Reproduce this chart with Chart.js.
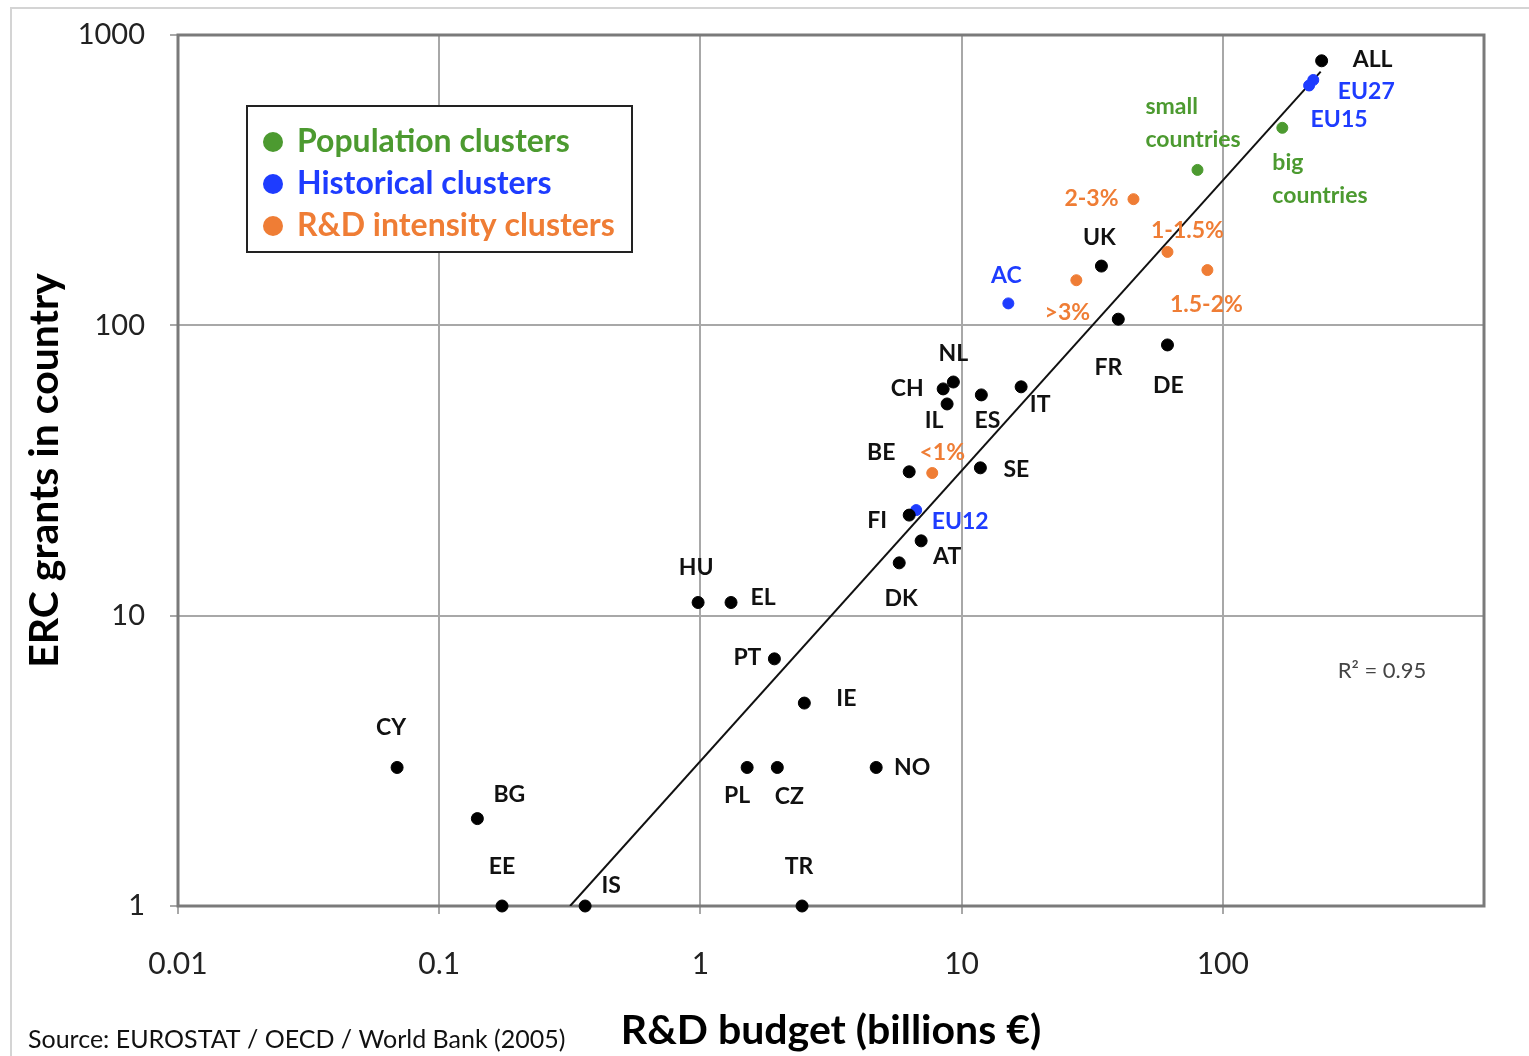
<!DOCTYPE html>
<html>
<head>
<meta charset="utf-8">
<script src="https://cdn.jsdelivr.net/npm/chart.js@4/dist/chart.umd.min.js"></script>
<style>
  html, body { margin: 0; padding: 0; background: #fff; }
  #wrap { width: 1529px; height: 1056px; }
</style>
</head>
<body>
<div id="wrap"><canvas id="chart" width="1529" height="1056"></canvas></div>
<script>
// countries (black)
const countryNames = ['ALL', 'UK', 'FR', 'DE', 'NL', 'CH', 'IL', 'ES', 'IT', 'BE', 'SE', 'FI', 'AT', 'DK',
  'HU', 'EL', 'PT', 'IE', 'PL', 'CZ', 'NO', 'TR', 'CY', 'BG', 'EE', 'IS'];
const countryBudget = [239, 34.3, 39.8, 61.4, 9.3, 8.5, 8.8, 11.9, 16.9, 6.3, 11.8, 6.3, 7.0, 5.77,
  0.98, 1.31, 1.92, 2.5, 1.51, 1.97, 4.71, 2.45, 0.069, 0.14, 0.174, 0.362];
const countryGrants = [815, 160, 105, 85.6, 63.8, 60.4, 53.6, 57.6, 61.4, 31.3, 32.3, 22.2, 18.1, 15.2,
  11.1, 11.1, 7.1, 5.0, 3.0, 3.0, 3.0, 1, 3.0, 2.0, 1, 1];

// population clusters (green)
const popNames = ['small\ncountries', 'big\ncountries'];
const popBudget = [80, 169];
const popGrants = [343, 479];

// historical clusters (blue)
const histNames = ['EU27', 'EU15', 'AC', 'EU12'];
const histBudget = [222, 214, 15.1, 6.7];
const histGrants = [700, 670, 119, 23.1];

// R&D intensity clusters (orange)
const intNames = ['2-3%', '1-1.5%', '1.5-2%', '>3%', '<1%'];
const intBudget = [45.5, 61.4, 87.3, 27.5, 7.72];
const intGrants = [272, 179, 155, 143, 31.0];

// fitted power-law line
const trendBudget = [0.317, 237];
const trendGrants = [1, 748];

const xTickValues = [0.01, 0.1, 1, 10, 100];
const xTickLabels = ['0.01', '0.1', '1', '10', '100'];
const yTickValues = [1, 10, 100, 1000];
const yTickLabels = ['1', '10', '100', '1000'];

// label placement relative to each point: [dx, dy, align]
const countryLabelPos = [[51, -1], [-2, -28], [-10, 48], [1, 41], [0, -28], [-36, 0], [-13, 17], [6, 26],
  [19, 18], [-28, -19], [36, 2], [-32, 5], [26, 16], [2, 36], [-2, -35], [32, -5], [-27, -1], [42, -4],
  [-10, 28], [12, 29], [36, 0], [-3, -39], [-6, -40], [32, -24], [0, -39], [26, -20]];
const popLabelPos = [[-52, -63, 'left'], [-10, 35, 'left']];
const histLabelPos = [[53, 12], [30, 34], [-2, -28], [44, 11]];
const intLabelPos = [[-42, -1], [20, -21], [-1, 35], [-9, 32], [10, -20]];

const GREEN = '#4c9a30';
const BLUE = '#1e3cff';
const ORANGE = '#ef7d35';

const legendItems = [
  { text: 'Population clusters', color: GREEN },
  { text: 'Historical clusters', color: BLUE },
  { text: 'R&D intensity clusters', color: ORANGE }
];

function toPoints(xs, ys) {
  return xs.map((x, i) => ({ x: x, y: ys[i] }));
}

const labelSets = [
  { names: countryNames, pos: countryLabelPos, color: '#111' },
  { names: popNames, pos: popLabelPos, color: GREEN },
  { names: histNames, pos: histLabelPos, color: BLUE },
  { names: intNames, pos: intLabelPos, color: ORANGE }
];

const decorPlugin = {
  id: 'decor',
  afterDatasetsDraw(chart) {
    const ctx = chart.ctx;

    // point labels
    ctx.save();
    ctx.font = 'bold 23px Lato';
    ctx.textBaseline = 'middle';
    labelSets.forEach((set, di) => {
      const meta = chart.getDatasetMeta(di);
      meta.data.forEach((pt, i) => {
        const p = set.pos[i];
        const lines = set.names[i].split('\n');
        ctx.fillStyle = set.color;
        ctx.textAlign = p[2] || 'center';
        lines.forEach((ln, k) => {
          ctx.fillText(ln, pt.x + p[0], pt.y + p[1] + k * 33);
        });
      });
    });
    ctx.restore();
  },
  beforeDatasetsDraw(chart) {
    const ctx = chart.ctx;
    const area = chart.chartArea;
    ctx.save();

    // plot frame
    ctx.strokeStyle = '#7a7a7a';
    ctx.lineWidth = 3;
    ctx.strokeRect(area.left, area.top, area.right - area.left, area.bottom - area.top);
    ctx.restore();
  },
  afterDraw(chart) {
    const ctx = chart.ctx;
    ctx.save();

    // outer picture frame
    ctx.strokeStyle = '#d4d4d4';
    ctx.lineWidth = 2;
    ctx.beginPath();
    ctx.moveTo(11, 1056);
    ctx.lineTo(11, 8);
    ctx.lineTo(1529, 8);
    ctx.stroke();

    // legend box
    const lx = 247, ly = 106, lw = 385, lh = 146;
    ctx.fillStyle = '#fff';
    ctx.fillRect(lx, ly, lw, lh);
    ctx.strokeStyle = '#222';
    ctx.lineWidth = 2;
    ctx.strokeRect(lx, ly, lw, lh);
    ctx.font = 'bold 32px Lato';
    ctx.textAlign = 'left';
    ctx.textBaseline = 'middle';
    legendItems.forEach((it, i) => {
      const y = ly + 36 + i * 42;
      ctx.fillStyle = it.color;
      ctx.beginPath();
      ctx.arc(lx + 26, y, 10, 0, Math.PI * 2);
      ctx.fill();
      ctx.fillText(it.text, lx + 50, y);
    });

    // R squared note
    ctx.fillStyle = '#444';
    ctx.font = '22px Lato';
    ctx.textAlign = 'center';
    ctx.fillText('R² = 0.95', 1382, 671);

    // source
    ctx.fillStyle = '#111';
    ctx.font = '25px Lato';
    ctx.textAlign = 'left';
    ctx.fillText('Source: EUROSTAT / OECD / World Bank (2005)', 28, 1040);
    ctx.restore();
  }
};

const ctx = document.getElementById('chart').getContext('2d');
new Chart(ctx, {
  type: 'scatter',
  data: {
    datasets: [
      { label: 'Countries', data: toPoints(countryBudget, countryGrants), backgroundColor: '#000', borderColor: '#000', pointRadius: 6, clip: false, order: 0 },
      { label: 'Population clusters', data: toPoints(popBudget, popGrants), backgroundColor: GREEN, borderColor: GREEN, pointRadius: 5.5, clip: false, order: 0 },
      { label: 'Historical clusters', data: toPoints(histBudget, histGrants), backgroundColor: BLUE, borderColor: BLUE, pointRadius: 5.5, clip: false, order: 0 },
      { label: 'R&D intensity clusters', data: toPoints(intBudget, intGrants), backgroundColor: ORANGE, borderColor: ORANGE, pointRadius: 5.5, clip: false, order: 0 },
      { label: 'Trend', type: 'line', data: toPoints(trendBudget, trendGrants), borderColor: '#111', borderWidth: 2, pointRadius: 0, fill: false, order: 5 }
    ]
  },
  options: {
    responsive: false,
    animation: false,
    layout: { padding: { top: 35, right: 45, left: 0, bottom: 0 } },
    plugins: {
      legend: { display: false },
      tooltip: { enabled: false }
    },
    scales: {
      x: {
        type: 'logarithmic',
        min: 0.01,
        max: 1000,
        afterFit(scale) { scale.height = 150; scale.paddingLeft = 0; scale.paddingRight = 0; },
        afterBuildTicks(scale) { scale.ticks = xTickValues.map(v => ({ value: v })); },
        ticks: {
          color: '#222',
          font: { family: 'Lato', size: 30 },
          padding: 32,
          maxRotation: 0,
          autoSkip: false,
          callback: (v) => xTickLabels[xTickValues.indexOf(v)] ?? ''
        },
        grid: { color: '#a8a8a8', lineWidth: 2, tickLength: 8 },
        border: { display: false },
        title: {
          display: true,
          text: 'R&D budget (billions €)',
          color: '#000',
          font: { family: 'Lato', size: 41, weight: 'bold' },
          padding: { top: 0, bottom: 1 }
        }
      },
      y: {
        type: 'logarithmic',
        min: 1,
        max: 1000,
        afterFit(scale) { scale.width = 178; scale.paddingTop = 0; scale.paddingBottom = 0; },
        afterBuildTicks(scale) { scale.ticks = yTickValues.map(v => ({ value: v })); },
        ticks: {
          color: '#222',
          font: { family: 'Lato', size: 29 },
          padding: 25,
          autoSkip: false,
          callback: (v) => yTickLabels[yTickValues.indexOf(v)] ?? ''
        },
        grid: { color: '#a8a8a8', lineWidth: 2, tickLength: 8 },
        border: { display: false },
        title: {
          display: true,
          text: 'ERC grants in country',
          color: '#000',
          font: { family: 'Lato', size: 41, weight: 'bold' },
          padding: { top: 20, bottom: 0 }
        }
      }
    }
  },
  plugins: [decorPlugin]
});
</script>
</body>
</html>
